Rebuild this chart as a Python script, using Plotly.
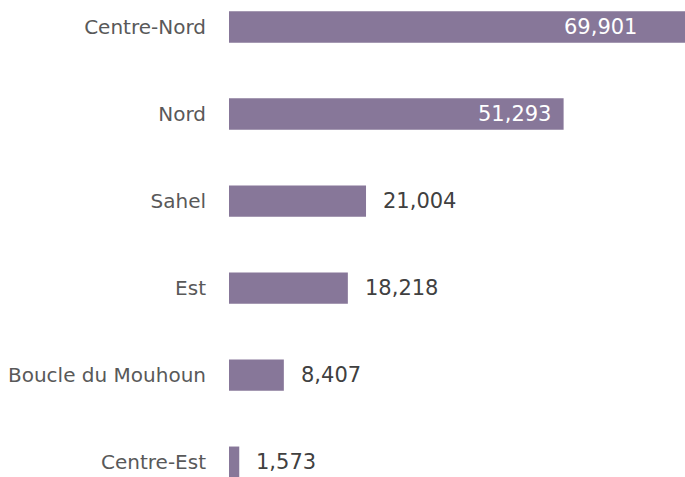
import plotly.graph_objects as go

regions = ["Centre-Nord", "Nord", "Sahel", "Est", "Boucle du Mouhoun", "Centre-Est"]
values = [69901, 51293, 21004, 18218, 8407, 1573]
value_labels = ["69,901", "51,293", "21,004", "18,218", "8,407", "1,573"]

BAR = "#877799"
FONT = "DejaVu Sans"

fig = go.Figure()
fig.add_trace(go.Bar(
    y=regions, x=values, orientation="h",
    marker=dict(color=BAR, line=dict(width=0)),
    width=0.36, hoverinfo="skip",
))

inside_threshold = 40000
for r, v, lab in zip(regions, values, value_labels):
    if v > inside_threshold:
        shift = -46 if v == max(values) else -11
        fig.add_annotation(x=v, y=r, text=lab, showarrow=False, xanchor="right",
                           xshift=shift, font=dict(family=FONT, size=21, color="white"))
    else:
        fig.add_annotation(x=v, y=r, text=lab, showarrow=False, xanchor="left",
                           xshift=15, font=dict(family=FONT, size=21, color="#404040"))

fig.update_layout(
    width=685, height=477,
    margin=dict(l=229, r=0, t=0, b=0),
    paper_bgcolor="white", plot_bgcolor="white",
    showlegend=False,
    xaxis=dict(range=[0, 69901], visible=False, fixedrange=True),
    yaxis=dict(
        categoryorder="array", categoryarray=regions,
        range=[5.17, -0.31], showgrid=False, zeroline=False, showline=False,
        ticks="", ticklabelstandoff=22,
        tickfont=dict(family=FONT, size=20, color="#595959"),
    ),
)

fig.write_html("out.html")
